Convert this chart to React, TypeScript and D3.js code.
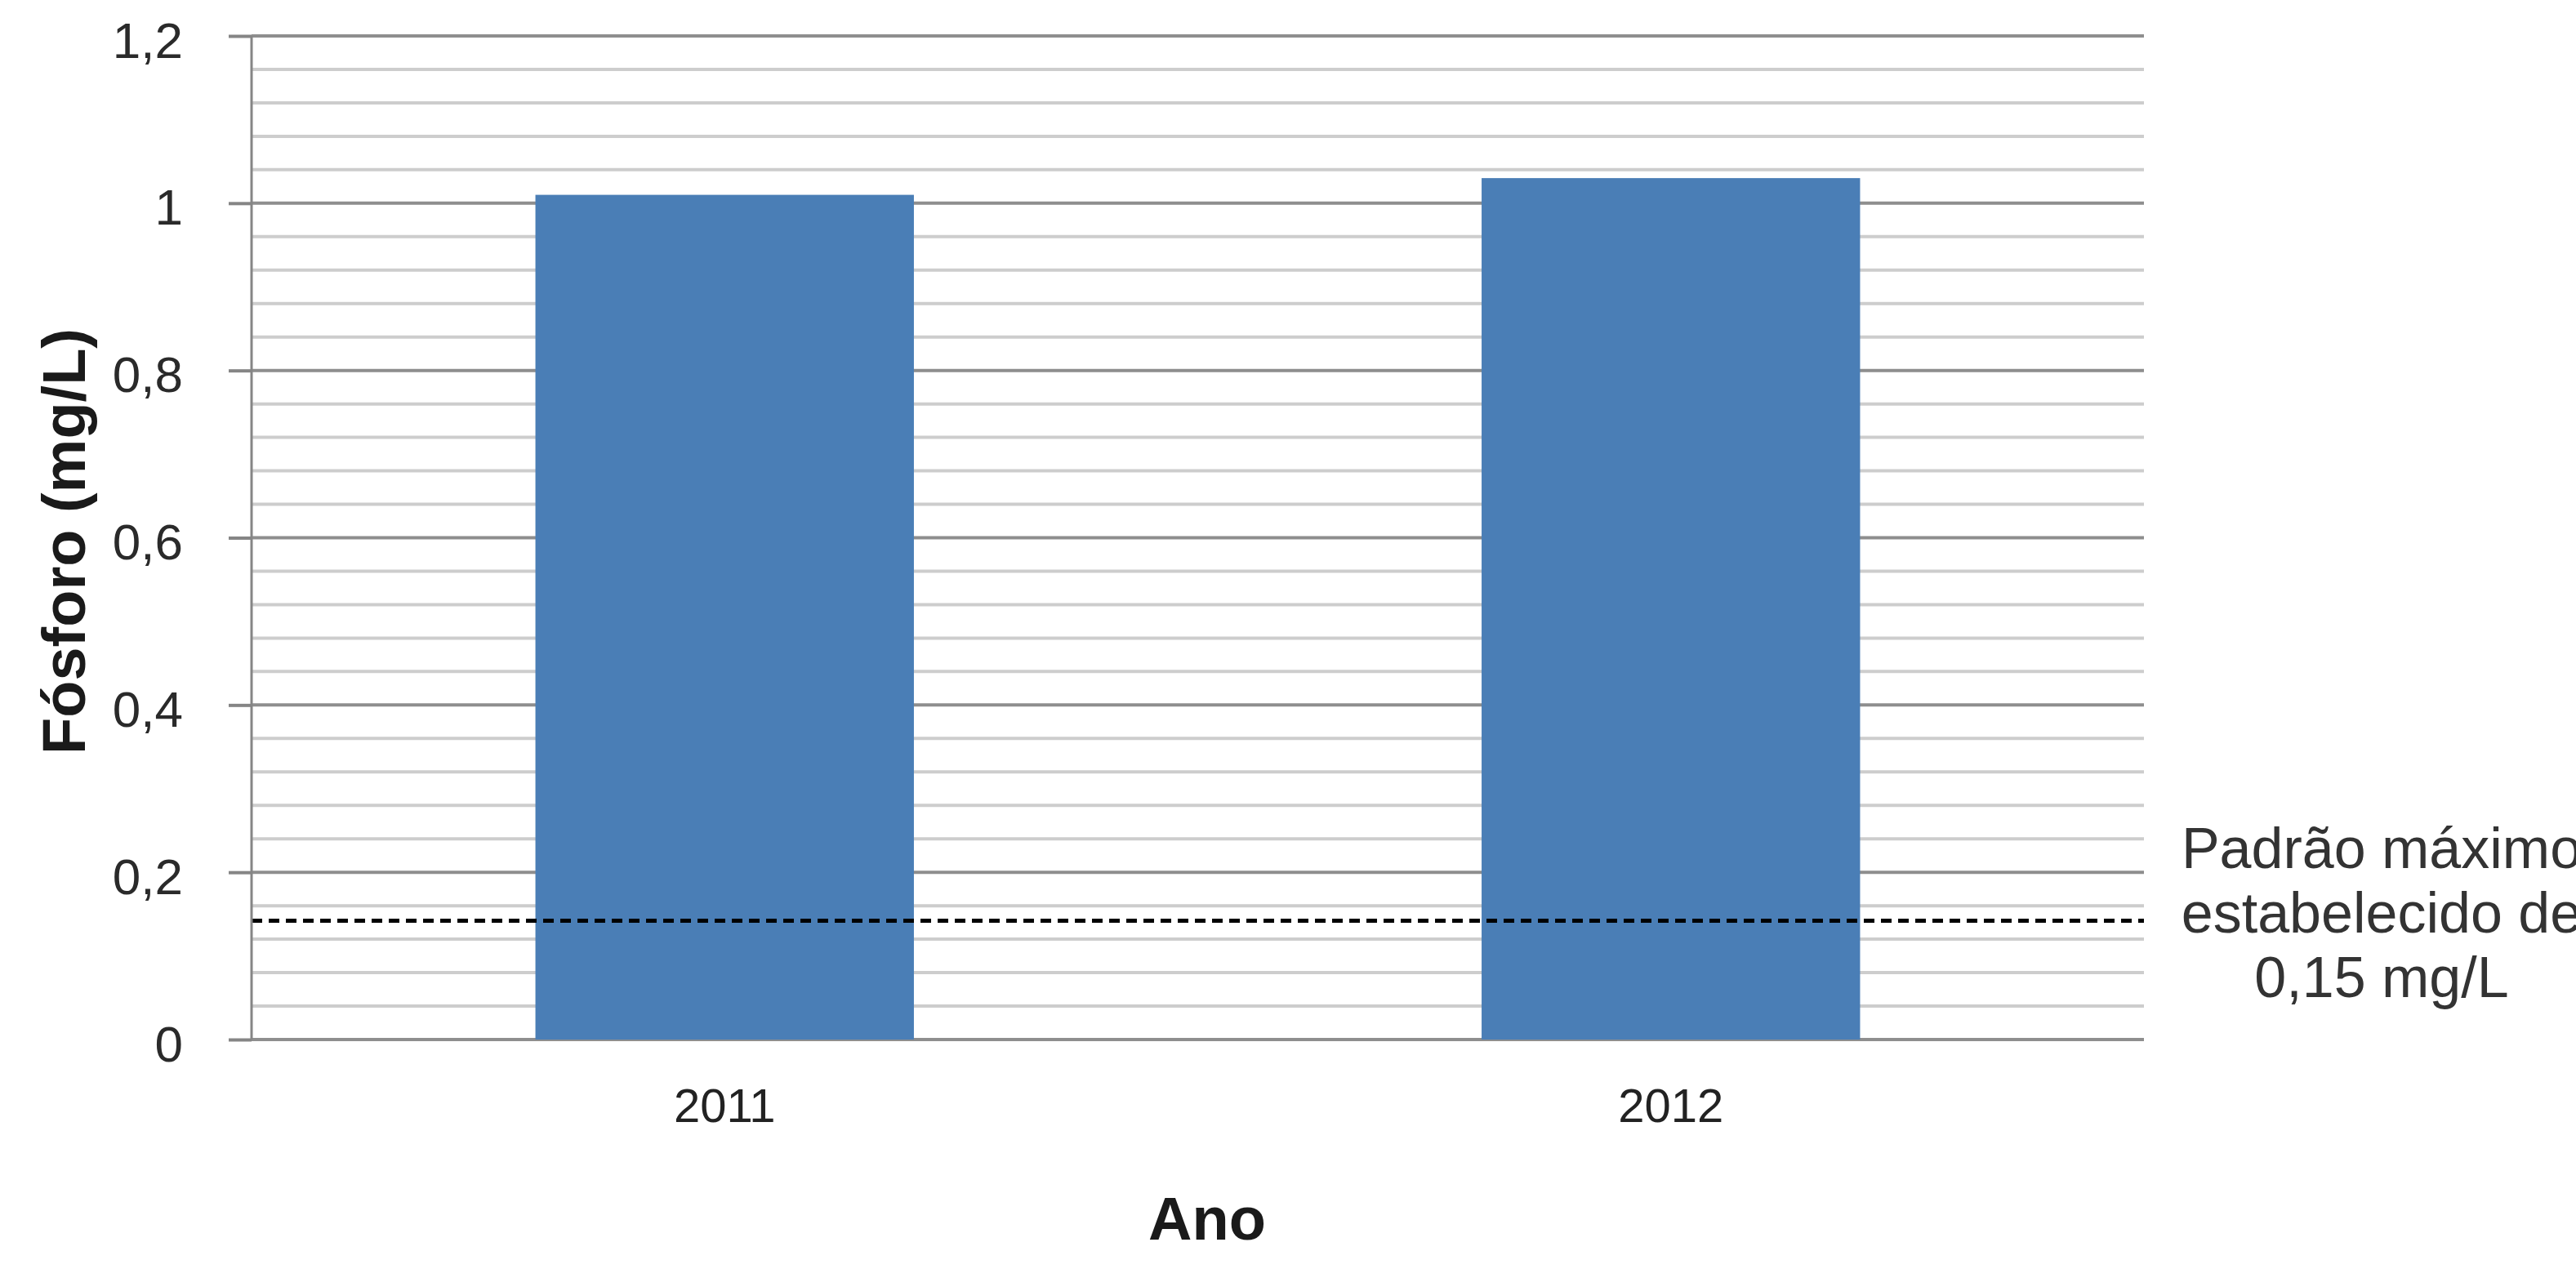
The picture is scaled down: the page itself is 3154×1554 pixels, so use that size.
import React, { useEffect, useRef } from 'react';
import * as d3 from 'd3';

// dados
const anos = ['2011', '2012'];
const fosforo = [1.01, 1.03];
const yTicks = [0, 0.2, 0.4, 0.6, 0.8, 1, 1.2];
const gridStep = 0.04;
const padraoMaximo = 0.142; // linha tracejada (rótulo diz 0,15 mg/L)
const notaLinhas = ['Padrão máximo', 'estabelecido de', '0,15 mg/L'];

const W = 3154;
const H = 1554;
const FONT = '"Liberation Sans", Arial, sans-serif';

const App: React.FC = () => {
  const ref = useRef<SVGSVGElement | null>(null);

  useEffect(() => {
    const svg = d3.select(ref.current);
    svg.selectAll('*').remove();

    const margin = { top: 44, right: 529, bottom: 281, left: 308 };
    const x0 = margin.left;
    const x1 = W - margin.right;
    const yTop = margin.top;
    const yBot = H - margin.bottom;

    const x = d3.scaleBand<string>()
      .domain(anos)
      .range([x0, x1])
      .paddingInner(0.6)
      .paddingOuter(0.3);

    const y = d3.scaleLinear()
      .domain([0, 1.2])
      .range([yBot, yTop]);

    const fmt = d3.formatLocale({ decimal: ',', thousands: '.', grouping: [3], currency: ['', ''] }).format('~g');

    // linhas de grade (menores a cada 0,04, maiores a cada 0,2)
    const grid = d3.range(0, 1.2 + 1e-9, gridStep);
    const isMajor = (v: number) => yTicks.some(t => Math.abs(t - v) < 1e-6);

    svg.append('g')
      .selectAll('line')
      .data(grid)
      .enter().append('line')
      .attr('x1', x0)
      .attr('x2', x1)
      .attr('y1', d => y(d))
      .attr('y2', d => y(d))
      .attr('stroke', d => (isMajor(d) ? '#8e8e8e' : '#cdcdcd'))
      .attr('stroke-width', 4);

    // barras
    svg.append('g')
      .selectAll('rect')
      .data(anos.map((a, i) => ({ ano: a, v: fosforo[i] })))
      .enter().append('rect')
      .attr('x', d => x(d.ano)!)
      .attr('y', d => y(d.v))
      .attr('width', x.bandwidth())
      .attr('height', d => yBot - y(d.v))
      .attr('fill', '#4a7eb6');

    // linha do padrão máximo
    svg.append('line')
      .attr('x1', x0)
      .attr('x2', x1)
      .attr('y1', y(padraoMaximo))
      .attr('y2', y(padraoMaximo))
      .attr('stroke', '#000')
      .attr('stroke-width', 5)
      .attr('stroke-dasharray', '13 8');

    // eixo y
    const yAxis = svg.append('g')
      .attr('transform', `translate(${x0},0)`)
      .call(d3.axisLeft(y).tickValues(yTicks).tickSize(28).tickPadding(56).tickFormat(d => fmt(d as number)));
    yAxis.select('.domain')
      .attr('stroke', '#858585')
      .attr('stroke-width', 3)
      .attr('d', `M0,${yTop}V${yBot}`);
    yAxis.selectAll('.tick line')
      .attr('stroke', '#858585')
      .attr('stroke-width', 4);
    yAxis.selectAll('.tick text')
      .attr('font-family', FONT)
      .attr('font-size', 62)
      .attr('fill', '#2a2a2a')
      .attr('dy', '0.42em');

    // rótulos do eixo x
    svg.append('g')
      .selectAll('text')
      .data(anos)
      .enter().append('text')
      .attr('x', d => x(d)! + x.bandwidth() / 2)
      .attr('y', 1374)
      .attr('text-anchor', 'middle')
      .attr('font-family', FONT)
      .attr('font-size', 58)
      .attr('fill', '#222')
      .text(d => d);

    // títulos dos eixos
    svg.append('text')
      .attr('x', 1478)
      .attr('y', 1518)
      .attr('text-anchor', 'middle')
      .attr('font-family', FONT)
      .attr('font-weight', 'bold')
      .attr('font-size', 74)
      .attr('fill', '#1a1a1a')
      .text('Ano');

    svg.append('text')
      .attr('transform', 'translate(104,663) rotate(-90)')
      .attr('text-anchor', 'middle')
      .attr('font-family', FONT)
      .attr('font-weight', 'bold')
      .attr('font-size', 74)
      .attr('fill', '#1a1a1a')
      .text('Fósforo (mg/L)');

    // nota à direita
    svg.append('g')
      .selectAll('text')
      .data(notaLinhas)
      .enter().append('text')
      .attr('x', 2916)
      .attr('y', (_, i) => 1063 + i * 79)
      .attr('text-anchor', 'middle')
      .attr('font-family', FONT)
      .attr('font-size', 70)
      .attr('fill', '#333')
      .text(d => d);
  }, []);

  return (
    <svg
      ref={ref}
      width={W}
      height={H}
      style={{ position: 'absolute', left: 0, top: 0, background: '#fff', display: 'block' }}
    />
  );
};

export default App;
